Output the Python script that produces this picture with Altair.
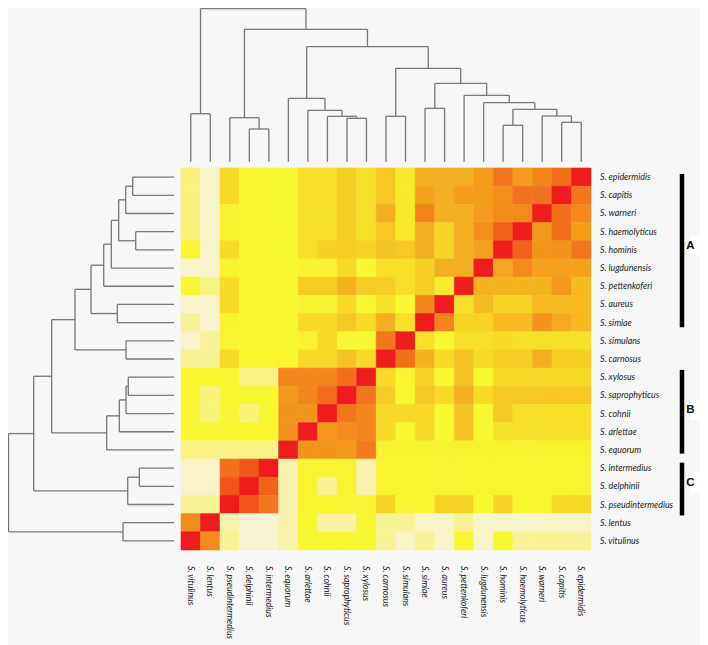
import altair as alt
import pandas as pd

rows = ["epidermidis", "capitis", "warneri", "haemolyticus", "hominis", "lugdunensis",
        "pettenkoferi", "aureus", "simiae", "simulans", "carnosus", "xylosus",
        "saprophyticus", "cohnii", "arlettae", "equorum", "intermedius", "delphinii",
        "pseudintermedius", "lentus", "vitulinus"]
cols = rows[::-1]

m00 = [1.3, .3, 3.3, 2, 2, 2, 3, 3, 3.7, 3, 4, 2.6, 5, 5, 5, 5.7, 7, 5.7, 6.5, 7.2, 10]
m01 = [1.3, .3, 3.3, 2, 2, 2, 3, 3, 3.7, 3, 4, 2.6, 5.5, 5, 5.7, 5.7, 6.2, 7.1, 7.1, 10, 7]
m02 = [1.3, .3, 2.2, 2, 2, 2, 3, 3, 3.7, 3, 5, 2.6, 6.5, 5, 5, 5.7, 6.3, 6.3, 10, 7.2, 6.4]
m03 = [1.3, .3, 2.2, 2, 2, 2, 3, 3, 3.7, 3, 4, 2.6, 5, 3.5, 5, 6.2, 7.6, 10, 5.8, 7.2, 5.6]
m04 = [2, .3, 3.2, 2, 2, 2, 3, 3.6, 3.7, 3.5, 4.2, 4, 5, 3.5, 5, 5.5, 10, 7.6, 6, 6, 7]
m05 = [.3, .3, 2.2, 2, 2, 2, 2.2, 2.2, 3.3, 2, 3, 3, 3.7, 5, 5, 10, 5.3, 6.3, 5.5, 5.5, 5.5]
m06 = [2, 1.2, 3.2, 2, 2, 2, 3.8, 3.8, 4.8, 3.8, 3.8, 3, 3.8, 2.5, 10, 4.8, 4.8, 4.8, 4.8, 5.8, 4.6]
m07 = [.3, .3, 3.2, 2, 2, 2, 2.2, 2.2, 3.2, 2, 3, 2, 6.5, 10, 3, 4.5, 3.5, 3.5, 4.5, 4.5, 4.5]
m08 = [1, .3, 2.2, 2, 2, 2, 3.2, 3.2, 4, 3.2, 5, 3, 10, 6.5, 3.5, 3.5, 4.5, 4.5, 6, 5.2, 4.6]
m09 = [.3, 1, 2.1, 2, 2, 2, 2.2, 3.3, 2, 2, 7, 10, 3, 2, 3, 3, 3.3, 3, 3, 3, 3]
m10 = [1, 1, 3.3, 2, 2, 2, 3.2, 3.2, 4.2, 3.3, 10, 7.2, 4.8, 3.2, 4.2, 3.2, 3.8, 3.8, 5, 3.8, 3.8]
m11 = [2, 2, 2, 1.2, 1.2, 6.5, 6.5, 6.5, 7.2, 10, 3.2, 2, 3.5, 2, 4.2, 2, 3.3, 3.3, 3.3, 3.3, 3.3]
m12 = [2, 1.3, 2, 2, 2, 5.8, 6.5, 7.3, 10, 7, 3.8, 2, 4, 3.2, 4.9, 3.2, 4, 4, 4, 4, 4]
m13 = [2, 1.3, 2, 1.3, 2, 6, 6, 10, 7, 6.5, 3.3, 3.3, 3.3, 2, 4.2, 2, 4, 3, 3, 3, 3]
m14 = [2, 2, 2, 2, 2, 6, 10, 5.8, 6.3, 6.5, 3.3, 2, 3.3, 2, 4.2, 2, 3, 3, 3, 3, 3]
m15 = [1.2, 1.2, 1.2, 1.2, 1.2, 10, 6, 6, 5.8, 6.8, 2.2, 2.2, 2.2, 2.2, 2.2, 2.2, 2.2, 2.2, 2.2, 2.2, 2.2]
m16 = [.3, .3, 7.2, 8, 10, .7, 2.1, 2.1, 2.1, .7, 2.1, 2.1, 2.1, 2.1, 2.1, 2.1, 2.1, 2.1, 2.1, 2.1, 2.1]
m17 = [.3, .3, 8, 10, 7.6, .7, 2.1, 1, 2.1, .7, 2.1, 2.1, 2.1, 2.1, 2.1, 2.1, 2.1, 2.1, 2.1, 2.1, 2.1]
m18 = [1, 1, 10, 8, 7, .7, 2.1, 2.1, 2.1, 2.1, 3.5, 2, 2, 3.5, 3.5, 2, 3.5, 2, 2, 3.3, 3.3]
m19 = [6.3, 10, .7, .2, .2, .7, 2, .8, .8, 2, 1, 1, .3, .3, 1, .3, .3, .3, .3, .3, .3]
m20 = [10, 6.3, 1, .2, .2, .7, 2, 2, 2, 2, 1, .3, 1, .3, 2, .3, 2, 1, 1, 1, 1]
matrix = [m00, m01, m02, m03, m04, m05, m06, m07, m08, m09, m10,
          m11, m12, m13, m14, m15, m16, m17, m18, m19, m20]

level_stops = [0, 1, 2, 3, 4, 5, 6, 7, 8, 10]
level_colors = ["#f6f3df", "#f8f296", "#f9f632", "#f7e02a", "#f5c824",
                "#f4af20", "#f3941c", "#f2761e", "#f05519", "#ee1c1c"]

# dendrograms: (distance, child, child); an integer is a leaf index
top_tree = (153, (48, 0, 1),
            (132.4, (44, 2, (32.7, 3, 4)),
             (115, (63.4, 5, (51.4, 6, (45.4, 7, (43.4, 8, 9)))),
              (93.4, (45.4, 10, 11),
               (78.4, (53.4, 12, 13),
                (66.4, 14,
                 (59, 15,
                  (52.4, (36.4, 16, 17),
                   (45.7, 18, (39.4, 19, 20))))))))))

left_tree = (165.5,
             (140.3,
              (122.3,
               (99,
                (83,
                 (70.3,
                  (62.7,
                   (55.3,
                    (48.3, (41.3, 0, 1), 2),
                    (38.3, 3, 4)),
                   5),
                  6),
                 (56.7, 7, 8)),
                (48, 9, 10)),
               (67.3, (54.7, (48, (45.7, 11, 12), 13), 14), 15)),
              (46.3, (34.7, 16, 17), 18)),
             (51, 19, 20))

group_names = ["A", "B", "C"]
group_start = [0.33, 11.1, 16.2]
group_end = [8.75, 15.7, 19.1]
group_text_row = [4.3, 13.3, 17.3]


def segments(tree):
    out = []

    def walk(node):
        if isinstance(node, int):
            return node + 0.5, 0
        d, a, b = node
        pa, da = walk(a)
        pb, db = walk(b)
        out.append(dict(p0=pa, p1=pa, d0=da, d1=d))
        out.append(dict(p0=pb, p1=pb, d0=db, d1=d))
        out.append(dict(p0=pa, p1=pb, d0=d, d1=d))
        return (pa + pb) / 2, d

    walk(tree)
    return pd.DataFrame(out)


cells = pd.DataFrame([
    dict(r=i, r2=i + 1, c=j, c2=j + 1, v=v)
    for i, row in enumerate(matrix) for j, v in enumerate(row)
])
row_labels = pd.DataFrame({"r": [i + 0.5 for i in range(21)], "t": ["S. " + n for n in rows]})
col_labels = pd.DataFrame({"c": [i + 0.5 for i in range(21)], "t": ["S. " + n for n in cols]})
groups = pd.DataFrame({"n": group_names, "a": group_start, "b": group_end, "m": group_text_row})

col_scale = alt.Scale(domain=[0, 21], range=[173, 583], zero=False, nice=False)
row_scale = alt.Scale(domain=[0, 21], range=[160, 542], zero=False, nice=False)
top_scale = alt.Scale(domain=[0, 158], range=[153.7, -4.3], zero=False, nice=False)
left_scale = alt.Scale(domain=[0, 166], range=[166, 0], zero=False, nice=False)
level_scale = alt.Scale(domain=level_stops, range=level_colors)

heat = alt.Chart(cells).mark_rect(strokeWidth=0.6).encode(
    x=alt.X("c:Q", scale=col_scale, axis=None),
    x2="c2:Q",
    y=alt.Y("r:Q", scale=row_scale, axis=None),
    y2="r2:Q",
    color=alt.Color("v:Q", legend=None, scale=level_scale),
    stroke=alt.Stroke("v:Q", legend=None, scale=level_scale),
)

line_style = dict(color="#777777", strokeWidth=1.3, opacity=1)

top_d = alt.Chart(segments(top_tree)).mark_rule(**line_style).encode(
    x=alt.X("p0:Q", scale=col_scale, axis=None), x2="p1:Q",
    y=alt.Y("d0:Q", scale=top_scale, axis=None), y2="d1:Q",
)
left_d = alt.Chart(segments(left_tree)).mark_rule(**line_style).encode(
    x=alt.X("d0:Q", scale=left_scale, axis=None), x2="d1:Q",
    y=alt.Y("p0:Q", scale=row_scale, axis=None), y2="p1:Q",
)

font = dict(font="Lato", fontSize=8.8, fontStyle="italic", color="#222222")
row_text = alt.Chart(row_labels).mark_text(align="left", baseline="middle", **font).encode(
    x=alt.value(592),
    y=alt.Y("r:Q", scale=row_scale, axis=None),
    text="t:N",
)
col_text = alt.Chart(col_labels).mark_text(align="left", baseline="middle", angle=90, **font).encode(
    x=alt.X("c:Q", scale=col_scale, axis=None),
    y=alt.value(558),
    text="t:N",
)

bars = alt.Chart(groups).mark_rule(color="black", strokeWidth=4.5).encode(
    x=alt.value(674),
    y=alt.Y("a:Q", scale=row_scale, axis=None),
    y2="b:Q",
)
patches = alt.Chart(groups).transform_calculate(
    t="datum.m - 0.55", u="datum.m + 0.55"
).mark_rect(color="white").encode(
    x=alt.value(682), x2=alt.value(692),
    y=alt.Y("t:Q", scale=row_scale, axis=None),
    y2="u:Q",
)
letters = alt.Chart(groups).mark_text(
    font="Liberation Sans", fontWeight="bold", fontSize=11.5, color="#111111",
    align="center", baseline="middle",
).encode(
    x=alt.value(682.5),
    y=alt.Y("m:Q", scale=row_scale, axis=None),
    text="n:N",
)

chart = alt.layer(heat, top_d, left_d, row_text, col_text, patches, bars, letters).resolve_scale(
    x="independent", y="independent", color="independent", stroke="independent"
).properties(
    width=692, height=637, background="#f7f7f7", padding=0,
    autosize=alt.AutoSizeParams(type="none"),
).configure_view(stroke=None)

chart.save("out.html", embed_options={"renderer": "svg", "actions": False})
